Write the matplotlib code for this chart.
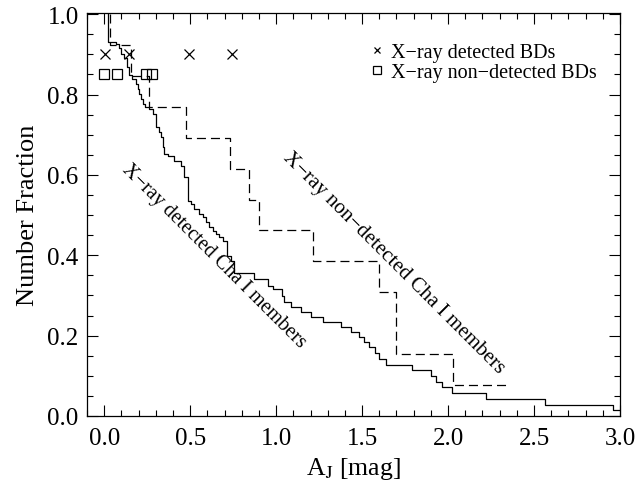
import matplotlib
matplotlib.use("Agg")
import matplotlib.pyplot as plt

# ---------------- data ----------------
# X-ray detected Cha I members: A_J at each drop and fraction after the drop
det_aj = [0.023, 0.070, 0.087, 0.099, 0.116, 0.134, 0.145, 0.163, 0.186, 0.197,
          0.203, 0.215, 0.226, 0.238, 0.261, 0.284, 0.302, 0.319, 0.331, 0.342,
          0.348, 0.371, 0.406, 0.447, 0.464, 0.488, 0.505, 0.522, 0.551, 0.575,
          0.592, 0.609, 0.633, 0.650, 0.667, 0.691, 0.714, 0.737, 0.754, 0.871,
          0.952, 0.981, 1.033, 1.045, 1.085, 1.143, 1.201, 1.271, 1.376, 1.434,
          1.480, 1.509, 1.538, 1.573, 1.596, 1.637, 1.793, 1.898, 1.927, 1.967,
          2.020, 2.223, 2.565, 2.960]
det_frac = [0.930, 0.925, 0.915, 0.900, 0.891, 0.868, 0.848, 0.838, 0.826, 0.813,
            0.801, 0.789, 0.776, 0.769, 0.764, 0.751, 0.719, 0.706, 0.694, 0.669,
            0.652, 0.647, 0.634, 0.622, 0.595, 0.535, 0.527, 0.515, 0.502, 0.495,
            0.483, 0.470, 0.460, 0.453, 0.445, 0.435, 0.398, 0.386, 0.356, 0.341,
            0.323, 0.316, 0.299, 0.284, 0.271, 0.259, 0.246, 0.234, 0.221, 0.209,
            0.197, 0.184, 0.172, 0.157, 0.142, 0.127, 0.114, 0.100, 0.085, 0.072,
            0.057, 0.042, 0.027, 0.015]
det_end = 3.0

# X-ray non-detected Cha I members
nondet_aj = [0.035, 0.157, 0.260, 0.476, 0.731, 0.842, 0.900, 1.213, 1.596,
             1.695, 2.030]
nondet_frac = [0.923, 0.846, 0.769, 0.692, 0.615, 0.538, 0.462, 0.385, 0.308,
               0.154, 0.077]
nondet_end = 2.345

# Brown dwarfs
bd_det_aj = [0.006, 0.145, 0.493, 0.743]
bd_det_level = 0.90
bd_nondet_aj = [0.0, 0.075, 0.244, 0.279]
bd_nondet_level = 0.85

xticks = [0.0, 0.5, 1.0, 1.5, 2.0, 2.5, 3.0]
yticks = [0.0, 0.2, 0.4, 0.6, 0.8, 1.0]

# ---------------- style ----------------
plt.rcParams['font.family'] = ['Liberation Serif', 'DejaVu Serif']
plt.rcParams['mathtext.fontset'] = 'stix'
plt.rcParams['lines.scale_dashes'] = False

fig = plt.figure(figsize=(6.39, 4.85), dpi=100)
ax = fig.add_axes([87/639, 68/485, 533/639, 403/485])

def steps(aj, frac, end):
    xs = [aj[0]] + list(aj) + [end]
    ys = [1.0] + list(frac) + [frac[-1]]
    return xs, ys

xs, ys = steps(det_aj, det_frac, det_end)
ax.step(xs, ys, where='post', color='black', lw=0.9)
xs, ys = steps(nondet_aj, nondet_frac, nondet_end)
ax.step(xs, ys, where='post', color='black', lw=0.9, dashes=(6.5, 3.6))

ax.plot(bd_det_aj, [bd_det_level]*len(bd_det_aj), linestyle='none', marker='x',
        ms=7, mew=0.9, color='black', label='X\u2212ray detected BDs')
ax.plot(bd_nondet_aj, [bd_nondet_level]*len(bd_nondet_aj), linestyle='none',
        marker='s', ms=7.5, mew=0.9, mfc='none', mec='black',
        label='X\u2212ray non\u2212detected BDs')

ax.legend(loc='upper left', bbox_to_anchor=(0.533, 0.925), frameon=False,
          fontsize=14.5, handlelength=0.6, handletextpad=0.37, borderpad=0,
          borderaxespad=0, labelspacing=0.05, markerscale=0.7)

ax.text(0.64, 0.40, 'X\u2212ray detected Cha I members', rotation=-45,
        rotation_mode='anchor', ha='center', va='center', fontsize=14.5)
ax.text(1.683, 0.383, 'X\u2212ray non\u2212detected Cha I members', rotation=-45,
        rotation_mode='anchor', ha='center', va='center', fontsize=15)

ax.set_xlim(-0.1, 3.0)
ax.set_ylim(0.0, 1.003)
ax.set_xticks(xticks)
ax.set_yticks(yticks)
ax.set_xticklabels([f'{v:.1f}' for v in xticks])
ax.set_yticklabels([f'{v:.1f}' for v in yticks])
ax.set_xticks([i/10 for i in range(-1, 31)], minor=True)
ax.set_yticks([i/20 for i in range(0, 21)], minor=True)
ax.tick_params(which='both', direction='in', top=True, right=True, width=0.8,
               labelsize=18)
ax.tick_params(which='major', length=8)
ax.tick_params(which='minor', length=4)
ax.tick_params(axis='x', pad=8)
ax.tick_params(axis='y', pad=6)
for s in ax.spines.values():
    s.set_linewidth(0.9)

ax.set_xlabel('A$_\\mathrm{J}$ [mag]', fontsize=18.5, labelpad=4)
ax.set_ylabel('Number Fraction', fontsize=19, labelpad=6)

fig.savefig('out.png', dpi=100)
